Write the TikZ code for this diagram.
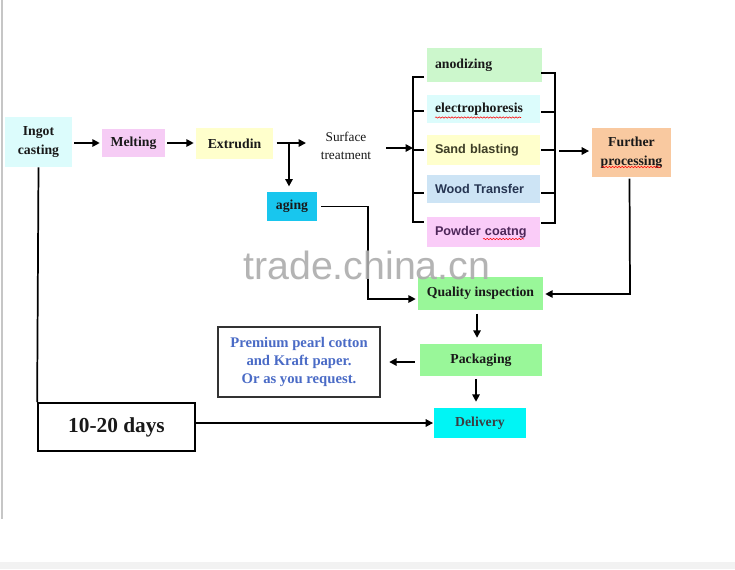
\documentclass[tikz,border=0pt]{standalone}
\usepackage{fontspec}
\setmainfont{Liberation Serif}
\setsansfont{Liberation Sans}
\usetikzlibrary{arrows.meta,decorations.pathmorphing}
\definecolor{cIngot}{HTML}{DCFCFC}
\definecolor{cMelt}{HTML}{F6CCF5}
\definecolor{cExt}{HTML}{FFFFCC}
\definecolor{cAging}{HTML}{18C6EE}
\definecolor{cAnod}{HTML}{CCF7CC}
\definecolor{cWood}{HTML}{CDE4F5}
\definecolor{cPowder}{HTML}{FACCF8}
\definecolor{cFurther}{HTML}{F9C9A0}
\definecolor{cGreen}{HTML}{99F799}
\definecolor{cDeliv}{HTML}{00F5F5}
\definecolor{cBlueTxt}{HTML}{4A6BC6}
\definecolor{tSand}{HTML}{3D3D26}
\definecolor{tWood}{HTML}{263552}
\definecolor{tPowder}{HTML}{4D2659}
\begin{document}
\begin{tikzpicture}[x=0.75pt,y=-0.75pt,
  box/.style={inner sep=0pt, align=center, text=black!90,
    font=\bfseries\fontsize{10.3}{14}\selectfont},
  lbox/.style={inner xsep=6pt, inner ysep=0pt, align=left, text width=72.75pt,
    minimum width=84.75pt, font=\bfseries\fontsize{10.3}{13}\selectfont, text=black!90},
  sbox/.style={lbox, font=\sffamily\bfseries\fontsize{9.5}{12}\selectfont},
  arr/.style={line width=1.3pt, -{Triangle[length=5.5pt,width=5.5pt]}},
  ln/.style={line width=1.3pt},
  squig/.style={red, line width=0.4pt, decorate,
    decoration={snake, amplitude=0.5pt, segment length=2.4pt}}
]
\useasboundingbox (0,0) rectangle (735,569);
\fill[white] (0,0) rectangle (735,569);
\fill[gray!10] (0,562) rectangle (735,569);
\draw[gray!45, line width=1pt] (2,0) -- (2,519);

% main row
\node[box, fill=cIngot, minimum width=50.25pt, minimum height=37.5pt] (ig) at (38.5,142) {Ingot\\casting};
\node[box, fill=cMelt, minimum width=47.25pt, minimum height=21pt] (me) at (133.5,143) {Melting};
\node[box, fill=cExt, minimum width=57.75pt, minimum height=23.25pt] (ex) at (234.5,143.5) {Extrudin};
\node[box, font=\fontsize{10}{14}\selectfont] (st) at (346,146) {Surface\\treatment};
\node[box, fill=cAging, minimum width=37.5pt, minimum height=21.75pt] (ag) at (292,206.5) {aging};

% surface treatments
\node[lbox, fill=cAnod, text width=74.25pt, minimum width=86.25pt, minimum height=25.5pt] (an) at (484.5,65) {anodizing};
\node[lbox, fill=cIngot, minimum height=21pt] (el) at (483.5,109) {electrophoresis};
\node[sbox, fill=cExt, minimum height=22.5pt, text=tSand] (sb) at (483.5,150) {Sand blasting};
\node[sbox, fill=cWood, minimum height=21pt, text=tWood] (wt) at (483.5,189) {Wood Transfer};
\node[sbox, fill=cPowder, minimum height=22.5pt, text=tPowder] (pc) at (483.5,232) {Powder coatng};

\node[box, fill=cFurther, minimum width=59.25pt, minimum height=36.75pt] (fp) at (631.5,152.5) {Further\\processing};

% lower part
\node[box, fill=cGreen, minimum width=93.75pt, minimum height=24.75pt] (qi) at (480.5,293.5) {Quality inspection};
\node[box, fill=cGreen, minimum width=91.5pt, minimum height=24pt] (pk) at (481,360) {Packaging};
\node[box, draw=black!80, line width=0.8pt, fill=white, minimum width=121.5pt, minimum height=52.5pt,
  text=cBlueTxt, font=\bfseries\fontsize{11}{13.5}\selectfont] (pr) at (299,362)
  {Premium pearl cotton\\and Kraft paper.\\Or as you request.};
\node[box, fill=cDeliv, minimum width=69pt, minimum height=22.5pt, text=black!85!cyan] (dl) at (480,423) {Delivery};
\node[box, draw=black, line width=1.3pt, minimum width=117.75pt, minimum height=36pt,
  font=\bfseries\fontsize{16}{18}\selectfont] (dy) at (116.5,427) {10-20 days};

% brackets
\draw[ln] (424,77) -- (413,77) -- (413,222) -- (424,222);
\foreach \yy in {111,150,193} \draw[ln] (413,\yy) -- (424,\yy);
\draw[ln] (541,73) -- (555,73) -- (555,223) -- (541,223);
\foreach \yy in {112,150,193} \draw[ln] (541,\yy) -- (555,\yy);
\coordinate (lb) at (413,148);
\coordinate (rb) at (559,151);

% connectors
\draw[arr, shorten <=1.5pt, shorten >=1.5pt] (ig.east |- me.west) -- (me.west);
\draw[arr, shorten <=1.5pt, shorten >=1.5pt] (me.east) -- (ex.east |- me.east -| ex.west);
\coordinate (stin) at (306,143);
\coordinate (br) at (289,143);
\draw[arr, shorten <=2.5pt] (ex.east |- stin) -- (stin);
\draw[arr, shorten >=4pt] (br) -- (br |- ag.north);
\draw[arr, shorten <=11pt] (st.east |- lb) -- (lb);
\draw[arr, shorten >=2pt] (rb) -- (rb -| fp.west);

\draw[arr, shorten <=3pt, shorten >=1.5pt] (ag.east) -- (368,206.5) -- (368,299) -- (qi.west |- 0,299);
\draw[arr, shorten <=1pt, shorten >=1.5pt] ([xshift=-1.5pt]fp.south) -- (630,294) -- (qi.east |- 0,294);
\draw[arr, shorten <=2.5pt, shorten >=4.5pt] ([xshift=-2.6pt]qi.south) -- ([xshift=-2.6pt]qi.south |- pk.north);
\draw[arr, shorten <=3.75pt, shorten >=6.5pt] (pk.west |- pr.east) -- (pr.east);
\draw[arr, shorten <=2pt, shorten >=4.5pt] ([xshift=-3.75pt]pk.south) -- ([xshift=-3.75pt]pk.south |- dl.north);
\draw[ln] (ig.south) -- (dy.north west);
\draw[arr, shorten >=0.5pt] (dy.east |- dl.west) -- (dl.west);

% spell-check squiggles
\draw[squig] (435,117.5) -- (521,117.5);
\draw[squig] (483,239) -- (524,239);
\draw[squig] (602,167) -- (661,167);

% watermark
\node[anchor=base west, inner sep=0pt, text=gray!65, opacity=0.9,
  font=\sffamily\fontsize{29.5}{30}\selectfont] (wm) at (243,279) {trade.china.cn};
\end{tikzpicture}
\end{document}
